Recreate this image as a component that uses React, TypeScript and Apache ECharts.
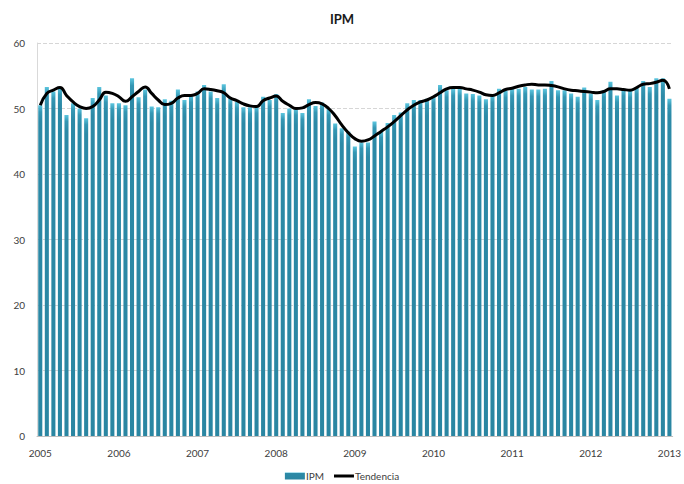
import React, { useEffect, useRef } from "react";
import * as echarts from "echarts";

// ---- Data (monthly, Jan 2005 – Jan 2013) ----
const years = [2005, 2006, 2007, 2008, 2009, 2010, 2011, 2012, 2013];
const monthsInLastYear = 1;

const ipm2005 = [50.5, 53.3, 52.6, 53.2, 49.0, 50.8, 50.0, 48.5, 51.6, 53.3, 52.0, 50.8];
const ipm2006 = [50.8, 50.5, 54.6, 51.7, 52.9, 50.3, 50.2, 51.4, 51.2, 52.9, 51.3, 52.0];
const ipm2007 = [52.6, 53.6, 52.6, 51.6, 53.7, 51.6, 51.0, 50.2, 50.2, 50.3, 51.8, 51.3];
const ipm2008 = [52.2, 49.3, 50.0, 50.0, 49.3, 51.4, 50.4, 50.9, 50.0, 47.7, 47.0, 46.5];
const ipm2009 = [44.2, 44.8, 44.8, 48.0, 46.5, 47.8, 49.0, 49.4, 50.8, 51.3, 51.3, 51.5];
const ipm2010 = [51.9, 53.6, 52.8, 53.0, 53.0, 52.3, 52.2, 52.0, 51.4, 52.0, 53.0, 52.7];
const ipm2011 = [53.0, 53.0, 53.3, 52.9, 52.9, 53.0, 54.2, 52.8, 52.8, 52.3, 51.8, 53.2];
const ipm2012 = [52.3, 51.3, 52.8, 54.1, 52.0, 53.0, 52.7, 53.3, 54.2, 53.3, 54.6, 54.6];
const ipm2013 = [51.5];

const trend2005 = [50.5, 52.3, 52.8, 53.2, 52.0, 51.0, 50.3, 50.0, 50.3, 51.3, 52.5, 52.3];
const trend2006 = [51.8, 51.1, 51.8, 52.6, 53.3, 52.3, 51.3, 50.6, 50.8, 51.6, 52.0, 52.0];
const trend2007 = [52.3, 53.0, 52.9, 52.7, 52.4, 51.6, 51.2, 50.7, 50.4, 50.3, 51.2, 51.6];
const trend2008 = [51.9, 51.1, 50.5, 50.0, 50.1, 50.6, 50.9, 50.7, 50.0, 48.9, 47.5, 46.3];
const trend2009 = [45.4, 45.0, 45.2, 45.8, 46.5, 47.2, 48.0, 48.9, 49.8, 50.5, 51.0, 51.3];
const trend2010 = [51.8, 52.4, 53.0, 53.2, 53.2, 53.0, 52.8, 52.5, 52.1, 52.0, 52.4, 52.9];
const trend2011 = [53.1, 53.4, 53.6, 53.7, 53.6, 53.6, 53.5, 53.3, 53.0, 52.8, 52.7, 52.6];
const trend2012 = [52.5, 52.4, 52.6, 53.0, 53.0, 52.9, 52.8, 53.2, 53.7, 53.8, 54.0, 54.3];
const trend2013 = [53.0];

const yTicks = [0, 10, 20, 30, 40, 50, 60];

// ---- Build series ----
const ipm = [
  ...ipm2005, ...ipm2006, ...ipm2007, ...ipm2008, ...ipm2009,
  ...ipm2010, ...ipm2011, ...ipm2012, ...ipm2013,
];
const trend = [
  ...trend2005, ...trend2006, ...trend2007, ...trend2008, ...trend2009,
  ...trend2010, ...trend2011, ...trend2012, ...trend2013,
];
const categories: string[] = [];
years.forEach((y, i) => {
  const n = i === years.length - 1 ? monthsInLastYear : 12;
  for (let m = 1; m <= n; m++) categories.push(`${y}-${String(m).padStart(2, "0")}`);
});

const FONT = "Lato, 'Open Sans', 'Liberation Sans', sans-serif";

export default function App() {
  const ref = useRef<HTMLDivElement>(null);
  useEffect(() => {
    if (!ref.current) return;
    const chart = echarts.init(ref.current, undefined, { renderer: "svg" });
    chart.setOption({
      animation: false,
      backgroundColor: "#ffffff",
      textStyle: { fontFamily: FONT },
      title: {
        text: "IPM",
        left: "center",
        top: 7,
        textStyle: { fontSize: 13, fontWeight: "bold", color: "#1a1a1a", fontFamily: FONT },
      },
      legend: {
        bottom: -2,
        left: "center",
        itemGap: 10,
        itemWidth: 20,
        itemHeight: 7,
        textStyle: { fontSize: 10, color: "#404040", fontFamily: FONT, padding: [0, 0, 0, -4] },
        data: [
          { name: "IPM", icon: "rect" },
          { name: "Tendencia", icon: "path://M0,0 L20,0 L20,3 L0,3 Z" },
        ],
      },
      grid: { left: 37, right: 7, top: 43, bottom: 48, containLabel: false },
      xAxis: {
        type: "category",
        data: categories,
        boundaryGap: true,
        axisLine: { show: true, lineStyle: { color: "#bfbfbf", width: 1 } },
        axisTick: { show: false },
        axisLabel: {
          interval: (idx: number) => idx % 12 === 0,
          formatter: (v: string) => v.slice(0, 4),
          fontSize: 10,
          color: "#404040",
          margin: 12,
          fontFamily: FONT,
        },
        splitLine: { show: false },
      },
      yAxis: {
        type: "value",
        min: yTicks[0],
        max: yTicks[yTicks.length - 1],
        interval: 10,
        axisLine: { show: true, lineStyle: { color: "#d9d9d9" } },
        axisTick: { show: false },
        axisLabel: { fontSize: 10, color: "#404040", margin: 12, fontFamily: FONT },
        splitLine: { show: true, lineStyle: { color: "#d6d6d6", type: "dashed", width: 1 } },
      },
      series: [
        {
          name: "IPM",
          type: "bar",
          data: ipm,
          barCategoryGap: "38%",
          itemStyle: {
            color: new echarts.graphic.LinearGradient(0, 0, 0, 1, [
              { offset: 0, color: "#5cc6df" },
              { offset: 0.02, color: "#3497b4" },
              { offset: 0.05, color: "#2c8aa7" },
              { offset: 1, color: "#2a86a2" },
            ]),
          },
        },
        {
          name: "Tendencia",
          type: "line",
          data: trend,
          smooth: true,
          symbol: "none",
          lineStyle: { color: "#000000", width: 3 },
          itemStyle: { color: "#000000" },
        },
      ],
    });
    return () => chart.dispose();
  }, []);
  return <div ref={ref} style={{ width: 684, height: 484, position: "absolute", left: 0, top: 0 }} />;
}
